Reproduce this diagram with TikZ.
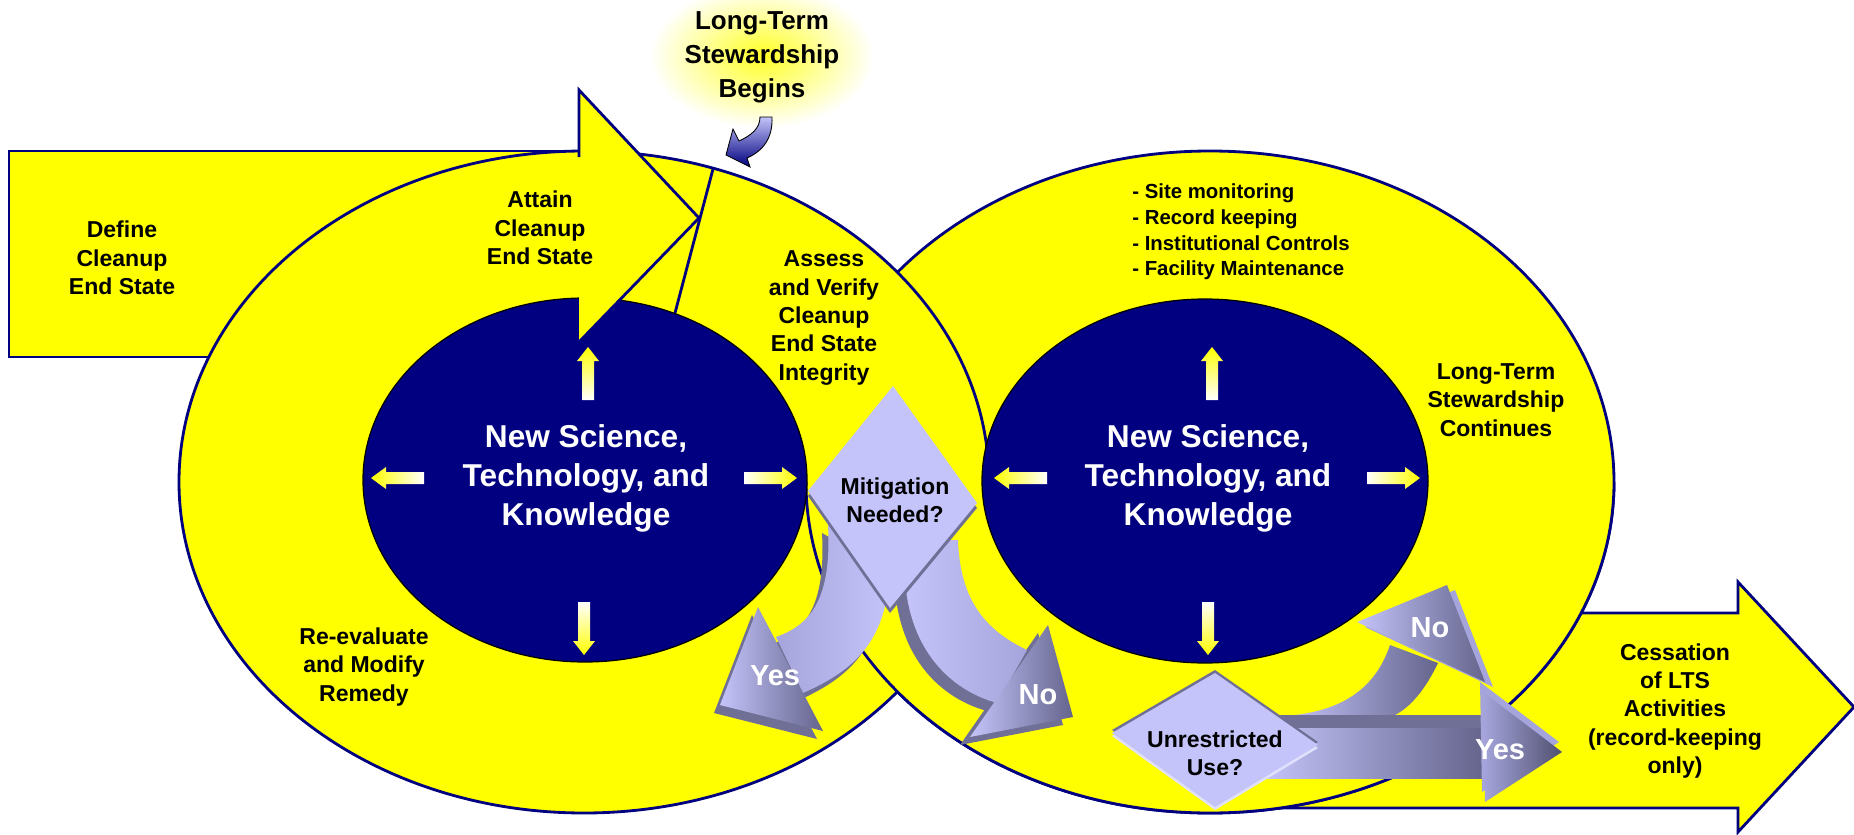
\documentclass[tikz,border=0pt]{standalone}
\usepackage{fontspec}
\setmainfont{Liberation Sans}
\definecolor{ylw}{RGB}{255,255,0}
\definecolor{nvy}{RGB}{0,0,128}
\definecolor{lav}{RGB}{196,196,250}
\definecolor{lavmid}{RGB}{165,165,220}
\definecolor{slate}{RGB}{100,100,140}
\definecolor{slatedk}{RGB}{112,112,150}
\newcommand\yarrR[2]{\shade[left color=white,right color=ylw] ({#1-53},{#2-6}) -- ({#1-15},{#2-6}) -- ({#1-15},{#2-11}) -- (#1,#2) -- ({#1-15},{#2+11}) -- ({#1-15},{#2+6}) -- ({#1-53},{#2+6}) -- cycle;}
\newcommand\yarrL[2]{\shade[left color=ylw,right color=white] ({#1+53},{#2-6}) -- ({#1+15},{#2-6}) -- ({#1+15},{#2-11}) -- (#1,#2) -- ({#1+15},{#2+11}) -- ({#1+15},{#2+6}) -- ({#1+53},{#2+6}) -- cycle;}
\newcommand\yarrU[2]{\shade[top color=ylw,bottom color=white] ({#1-6},{#2+53}) -- ({#1-6},{#2+14}) -- ({#1-11},{#2+14}) -- (#1,#2) -- ({#1+11},{#2+14}) -- ({#1+6},{#2+14}) -- ({#1+6},{#2+53}) -- cycle;}
\newcommand\yarrD[2]{\shade[top color=white,bottom color=ylw] ({#1-6},{#2-53}) -- ({#1-6},{#2-14}) -- ({#1-11},{#2-14}) -- (#1,#2) -- ({#1+11},{#2-14}) -- ({#1+6},{#2-14}) -- ({#1+6},{#2-53}) -- cycle;}
\newcommand\mitYbody{(828,525) .. controls (832,600) and (810,625) .. (776,637) -- (803,693) .. controls (855,670) and (890,640) .. (890,560) -- cycle}
\newcommand\mitYhead{(758,607) -- (720,705) -- (823,731) -- cycle}
\newcommand\mitNbody{(905,540) -- (905,580) .. controls (910,650) and (950,690) .. (997,703) -- (1027,650) .. controls (985,630) and (960,600) .. (958,540) -- cycle}
\newcommand\mitNhead{(1048,625) -- (970,737) -- (1073,717) -- cycle}
\newcommand\unNbody{(1285,716) .. controls (1340,712) and (1375,690) .. (1390,645) -- (1438,663) .. controls (1425,690) and (1410,708) .. (1393,716) -- cycle}
\newcommand\unNhead{(1357,622) -- (1447,585) -- (1485,682) -- cycle}
\newcommand\unYhead{(1483,692) -- (1562,752) -- (1485,802) -- cycle}
\begin{document}
\begin{tikzpicture}[x=0.02cm,y=-0.02cm,
 lbl/.style={font=\fontsize{13.1}{16.1}\selectfont\bfseries,align=center,inner sep=0pt},
 wlbl/.style={font=\fontsize{18}{22.2}\selectfont\bfseries,align=center,text=white,inner sep=0pt},
 ynlbl/.style={font=\fontsize{16.5}{18}\selectfont\bfseries,text=white,inner sep=0pt},
 outline/.style={draw=nvy,line width=1.6pt},
 navyell/.style={fill=nvy,draw=black,line width=0.7pt}]
\useasboundingbox (0,0) rectangle (1854,835);

% glow behind the heading
\shade[inner color=ylw!85!white,outer color=white] (762,56) ellipse (112 and 72);

% big yellow arrows (behind the ellipses)
\draw[outline,fill=ylw] (9,151) rectangle (600,357);
\draw[outline,fill=ylw,line join=miter] (1250,613) -- (1738,613) -- (1738,582) -- (1854,707) -- (1738,832) -- (1738,808) -- (1250,808) -- cycle;

% outer ellipses, interlinked
\draw[outline,fill=ylw] (1210,482) ellipse (404 and 331);
\draw[outline,fill=ylw] (584,482) ellipse (405 and 331);
\begin{scope}
  \clip (0,482) rectangle (1854,835);
  \fill[ylw] (1210,482) ellipse (404 and 331);
  \draw[outline] (1210,482) ellipse (404 and 331);
\end{scope}

% inner ellipses
\draw[navyell] (585,480) ellipse (222 and 182);
\draw[navyell] (1205,481) ellipse (223 and 182);

% head of the Define arrow
\fill[ylw] (579,90) -- (699,218) -- (579,342) -- cycle;
\draw[outline,line join=miter] (579,157) -- (579,90) -- (699,218) -- (579,342);
\draw[outline] (713,169) -- (675,313);

% curved arrow of the heading
\shade[top color=lav,bottom color=nvy,draw=black,line width=0.5pt]
  (760,117) -- (772,117) .. controls (773,138) and (763,151) .. (747,158)
  -- (750,167) -- (726,155) -- (733,129) -- (739,141)
  .. controls (752,135) and (760,128) .. (760,117) -- cycle;

% small yellow arrows
\yarrU{588}{347}\yarrL{371}{478}\yarrR{797}{478}\yarrD{584}{655}
\yarrU{1212}{347}\yarrL{994}{478}\yarrR{1420}{478}\yarrD{1208}{655}

% Mitigation arrows
\begin{scope}[shift={(-6,8)}]
  \fill[slatedk] \mitYbody; \fill[slatedk] \mitYhead;
\end{scope}
\begin{scope}[shift={(-10,8)}]
  \fill[slatedk] \mitNbody; \fill[slatedk] \mitNhead;
\end{scope}
\shade[left color=lavmid,right color=lav] \mitYbody;
\shade[left color=lav,right color=lavmid] \mitNbody;
\shade[left color=lav,right color=slate] \mitYhead;
\shade[left color=lav,right color=slate] \mitNhead;
\fill[slatedk] (808,496) -- (893,391) -- (977,508) -- (890,613) -- cycle;
\fill[lav] (808,491) -- (893,386) -- (977,503) -- (890,608) -- cycle;

% Unrestricted arrows
\shade[left color=lav,right color=slate] \unNbody;
\begin{scope}[shift={(8,5)}] \fill[lavmid] \unNhead; \end{scope}
\shade[left color=lav,right color=slate] \unNhead;
\fill[slatedk] (1262,715) rectangle (1485,728);
\shade[left color=lav,right color=slate] (1262,728) rectangle (1485,778);
\begin{scope}[shift={(-3,-10)}] \fill[lavmid] \unYhead; \end{scope}
\shade[left color=lavmid,right color=slate!80!black] \unYhead;
\fill[slatedk] (1112,730) -- (1215,670) -- (1318,742) -- (1215,804) -- cycle;
\fill[white!50!lav] (1112,736) -- (1215,676) -- (1318,748) -- (1215,810) -- cycle;
\fill[lav] (1112,733) -- (1215,673) -- (1318,745) -- (1215,807) -- cycle;

% labels
\node[lbl,font=\fontsize{14.8}{19.4}\selectfont\bfseries] (ltsb) at (762,57) {Long-Term\\Stewardship\\Begins};
\node[lbl] (define) at (122,258) {Define\\Cleanup\\End State};
\node[lbl] (attain) at (540,228) {Attain\\Cleanup\\End State};
\node[lbl] (assess) at (824,318) {Assess\\and Verify\\Cleanup\\End State\\Integrity};
\node[lbl,font=\fontsize{11.6}{14.6}\selectfont\bfseries,align=left,anchor=west] (tasks) at (1132,232) {- Site monitoring\\- Record keeping\\- Institutional Controls\\- Facility Maintenance};
\node[lbl] (ltsc) at (1496,400) {Long-Term\\Stewardship\\Continues};
\node[lbl] (reeval) at (364,667) {Re-evaluate\\and Modify\\Remedy};
\node[lbl] (cess) at (1675,711) {Cessation\\of LTS\\Activities\\(record-keeping\\only)};
\node[wlbl] (nstk1) at (586,478) {New Science,\\Technology, and\\Knowledge};
\node[wlbl] (nstk2) at (1208,478) {New Science,\\Technology, and\\Knowledge};
\node[lbl] (mit) at (895,500) {Mitigation\\Needed?};
\node[lbl] (unr) at (1215,753) {Unrestricted\\Use?};
\node[ynlbl] (yes1) at (775,676) {Yes};
\node[ynlbl] (no1) at (1038,695) {No};
\node[ynlbl] (no2) at (1430,628) {No};
\node[ynlbl] (yes2) at (1500,750) {Yes};
\end{tikzpicture}
\end{document}
